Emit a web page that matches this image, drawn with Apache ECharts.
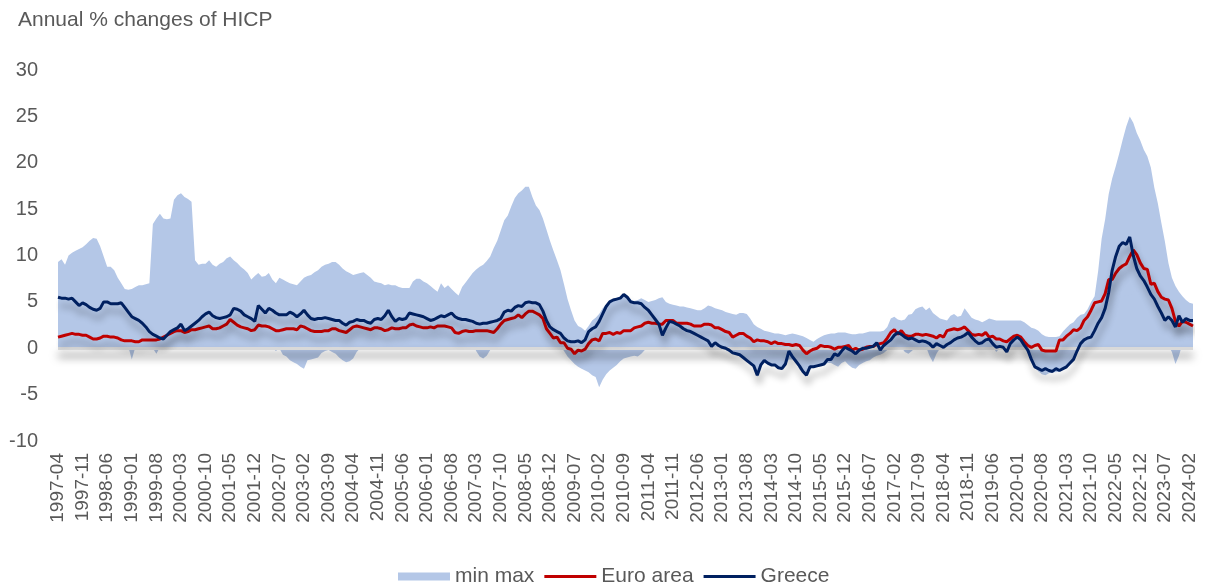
<!DOCTYPE html>
<html>
<head>
<meta charset="utf-8">
<title>Annual % changes of HICP</title>
<script src="https://cdn.jsdelivr.net/npm/echarts@6/dist/echarts.min.js"></script>
<style>
  html, body { margin: 0; padding: 0; background: #fff; }
  #chart { width: 1209px; height: 587px; }
</style>
</head>
<body>
<div id="chart"></div>
<script>
// monthly data, 1997-04 .. 2024-03 (one row per year)
const START_YEAR = 1997;
const START_MONTH = 4;

const maxVals = [
  9.3, 9.6, 9.0, 10.0, 10.3, 10.5, 10.7, 10.9, 11.2, // 1997
  11.6, 11.9, 11.8, 11.0, 9.9, 8.8, 8.8, 8.4, 7.6, 7.0, 6.4, 6.3,
  6.4, 6.6, 6.8, 6.8, 6.9, 7.0, 13.4, 14.0, 14.5, 14.0, 13.9, 14.0,
  16.0, 16.5, 16.7, 16.3, 16.1, 15.8, 9.5, 9.0, 9.1, 9.1, 9.5, 9.0, // 2000
  8.8, 9.1, 9.3, 9.7, 9.9, 9.5, 9.2, 8.8, 8.5, 8.1, 7.4, 7.8,
  8.1, 7.7, 7.8, 8.1, 7.4, 7.0, 7.6, 7.4, 7.2, 7.0, 6.9, 6.8,
  7.2, 7.6, 7.8, 7.9, 8.2, 8.4, 8.8, 9.0, 9.1, 9.3, 9.3, 9.0,
  8.6, 8.3, 8.1, 7.9, 8.0, 8.1, 8.2, 7.9, 7.6, 7.2, 7.1, 7.0,
  6.8, 6.9, 6.8, 6.8, 6.6, 6.5, 6.5, 6.5, 7.2, 7.5, 7.5, 7.2, // 2005
  7.0, 6.7, 6.4, 6.1, 7.0, 6.5, 6.8, 6.4, 6.0, 5.7, 6.6, 7.1,
  7.6, 8.1, 8.5, 8.8, 9.0, 9.4, 9.9, 10.8, 11.6, 12.7, 13.8, 14.3,
  15.3, 16.2, 16.7, 17.0, 17.4, 17.4, 16.3, 15.4, 14.9, 14.0, 12.8, 11.6,
  10.5, 9.5, 8.4, 6.9, 5.3, 4.1, 3.0, 2.4, 2.2, 1.9, 2.4, 3.0,
  3.3, 3.7, 4.3, 4.7, 5.1, 5.3, 5.4, 5.6, 5.8, 5.7, 5.2, 5.1, // 2010
  5.2, 5.4, 5.2, 5.0, 5.1, 5.2, 5.4, 5.5, 5.0, 4.8, 4.7, 4.6,
  4.5, 4.5, 4.4, 4.3, 4.2, 4.1, 4.1, 4.3, 4.6, 4.5, 4.3, 4.2,
  4.1, 3.9, 3.8, 3.7, 3.6, 3.8, 3.8, 3.7, 3.2, 2.6, 2.3, 2.1,
  1.9, 1.8, 1.7, 1.6, 1.6, 1.5, 1.4, 1.5, 1.6, 1.5, 1.4, 1.3,
  1.1, 0.9, 0.7, 1.0, 1.2, 1.4, 1.5, 1.6, 1.6, 1.7, 1.7, 1.7, // 2015
  1.6, 1.5, 1.5, 1.6, 1.6, 1.7, 1.8, 1.8, 1.8, 1.8, 1.9, 2.3,
  3.2, 3.4, 3.1, 3.0, 3.1, 3.6, 3.7, 4.2, 4.4, 4.5, 4.1, 4.4,
  3.8, 3.5, 3.2, 3.1, 3.0, 3.5, 3.7, 3.4, 3.5, 4.3, 3.8, 3.3,
  3.1, 3.0, 2.8, 3.0, 3.2, 3.1, 3.0, 3.0, 3.0, 3.0, 3.0, 3.0,
  3.0, 3.0, 2.8, 2.5, 2.2, 2.1, 1.9, 1.5, 1.3, 1.2, 1.2, 1.2, // 2020
  1.3, 1.8, 2.2, 2.6, 2.8, 3.3, 3.6, 3.7, 4.2, 5.0, 5.6, 8.3,
  11.8, 13.9, 16.6, 18.3, 19.6, 21.0, 22.5, 23.9, 25.0, 24.3, 23.2, 22.4,
  21.4, 20.7, 19.5, 17.3, 15.6, 13.5, 11.5, 9.2, 7.6, 6.7, 6.1, 5.6,
  5.2, 4.9, 4.8 // 2024
];

const minVals = [
  0.9, 0.8, 0.7, 0.9, 0.8, 0.7, 0.6, 0.8, 0.7, // 1997
  0.6, 0.5, 0.6, 0.7, 0.5, 0.4, 0.3, 0.2, 0.1, 0.0, 0.1, 0.2,
  -1.2, 0.1, 0.2, 0.3, 0.2, 0.1, 0.0, -0.6, 0.1, 0.3, 0.5, 0.6,
  0.8, 0.9, 1.0, 1.0, 1.1, 1.2, 1.3, 1.2, 1.3, 1.4, 1.2, 1.0, // 2000
  1.0, 1.2, 1.3, 1.5, 1.4, 1.3, 1.1, 1.0, 0.8, 0.6, 0.4, 0.3,
  0.5, 0.4, 0.3, 0.2, 0.1, -0.3, 0.0, -0.7, -0.9, -1.3, -1.5, -1.7,
  -2.0, -2.2, -1.3, -1.2, -1.1, -1.0, -0.5, -0.3, -0.2, -0.4, -0.6, -1.0,
  -1.3, -1.5, -1.4, -1.1, -0.4, 0.0, 0.2, 0.3, 0.4, 0.2, 0.3, 0.1,
  0.2, 0.3, 0.5, 0.4, 0.6, 0.5, 0.7, 0.8, 0.9, 0.8, 0.7, 0.9, // 2005
  0.8, 0.9, 1.0, 1.1, 1.2, 1.0, 0.9, 0.8, 0.7, 0.6, 0.8, 0.7,
  0.6, 0.5, -0.3, -0.9, -1.1, -0.8, -0.2, 0.6, 0.8, 1.0, 1.2, 1.3,
  1.4, 1.6, 1.8, 1.9, 2.0, 2.1, 2.2, 2.1, 1.9, 1.6, 1.0, 0.5,
  0.2, 0.1, 0.3, -0.3, -0.9, -1.3, -1.7, -2.0, -2.2, -2.4, -2.6, -2.9,
  -3.1, -4.2, -3.4, -2.8, -2.4, -2.1, -1.8, -1.4, -1.1, -1.0, -0.9, -0.8, // 2010
  -0.9, -0.6, -0.2, 0.2, 0.4, 0.6, 0.8, 1.0, 1.2, 1.3, 1.4, 1.2,
  1.1, 1.0, 0.9, 1.0, 1.0, 0.9, 0.8, 0.6, 0.5, 0.1, 0.4, 0.2,
  -0.1, -0.2, -0.4, -0.6, -0.7, -0.9, -1.1, -1.5, -1.7, -2.0, -3.1, -2.0,
  -1.6, -1.7, -1.9, -1.9, -2.2, -2.3, -1.8, -1.2, -1.2, -1.5, -2.3, -2.6,
  -3.0, -2.2, -2.1, -2.0, -1.9, -1.8, -1.6, -1.6, -1.8, -2.0, -1.6, -1.4, // 2015
  -1.8, -2.1, -2.2, -1.8, -1.6, -1.4, -1.3, -1.0, -0.8, -0.7, -0.5, -0.2,
  0.2, 0.4, 0.3, 0.1, -0.4, -0.6, -0.3, 0.1, 0.2, 0.3, 0.2, -0.8,
  -1.5, -0.6, 0.0, 0.1, 0.2, 0.3, 0.5, 0.7, 0.8, 0.9, 0.8, 0.6,
  0.4, 0.3, 0.2, 0.3, 0.4, 0.2, -0.4, 0.0, 0.0, -0.5, 0.2, 0.4,
  0.5, 0.3, 0.0, -0.5, -1.4, -2.1, -2.5, -2.8, -2.9, -2.7, -2.6, -2.6, // 2020
  -2.5, -2.3, -2.1, -1.7, -1.3, -0.5, 0.2, 0.6, 0.8, 1.0, 1.5, 2.2,
  2.5, 3.0, 3.8, 4.2, 4.5, 5.0, 5.5, 5.8, 5.6, 6.1, 6.2, 5.9,
  5.6, 5.8, 4.3, 3.3, 2.5, 1.6, 0.6, 0.3, -0.4, -1.7, -0.8, 0.5,
  1.1, 1.2, 1.3 // 2024
];

const euroArea = [
  1.2, 1.3, 1.4, 1.5, 1.6, 1.5, 1.5, 1.4, 1.4, // 1997
  1.2, 1.0, 1.0, 1.1, 1.3, 1.3, 1.2, 1.2, 1.1, 0.9, 0.8, 0.8,
  0.8, 0.7, 0.7, 0.9, 0.9, 0.9, 0.9, 0.9, 1.0, 1.2, 1.4, 1.6,
  1.8, 1.9, 1.9, 1.7, 1.8, 2.0, 2.0, 2.1, 2.2, 2.3, 2.4, 2.1, // 2000
  2.1, 2.2, 2.4, 2.6, 3.1, 2.8, 2.5, 2.3, 2.2, 2.1, 1.9, 2.0,
  2.5, 2.4, 2.4, 2.3, 2.1, 1.9, 1.9, 2.0, 2.1, 2.1, 2.1, 2.0,
  2.4, 2.3, 2.1, 1.9, 1.8, 1.8, 1.8, 1.9, 1.9, 2.1, 2.1, 1.9,
  1.8, 1.7, 2.0, 2.3, 2.4, 2.3, 2.2, 2.1, 2.0, 2.2, 2.2, 2.1,
  1.9, 2.0, 2.2, 2.1, 2.1, 2.2, 2.2, 2.5, 2.6, 2.4, 2.3, 2.2, // 2005
  2.2, 2.3, 2.2, 2.4, 2.4, 2.4, 2.3, 2.2, 1.7, 1.6, 1.8, 1.9,
  1.8, 1.8, 1.9, 1.9, 1.9, 1.9, 1.8, 1.7, 2.1, 2.6, 3.0, 3.1,
  3.2, 3.3, 3.6, 3.3, 3.7, 4.0, 4.0, 3.8, 3.6, 3.2, 2.1, 1.6,
  1.1, 1.2, 0.6, 0.6, 0.0, -0.1, -0.6, -0.2, -0.3, -0.1, 0.5, 0.9,
  1.0, 0.8, 1.6, 1.6, 1.7, 1.5, 1.7, 1.6, 1.9, 1.9, 1.9, 2.2, // 2010
  2.3, 2.4, 2.7, 2.8, 2.7, 2.7, 2.6, 2.6, 3.0, 3.0, 3.0, 2.7,
  2.7, 2.7, 2.7, 2.6, 2.4, 2.4, 2.4, 2.6, 2.6, 2.5, 2.2, 2.2,
  2.0, 1.8, 1.7, 1.2, 1.4, 1.6, 1.6, 1.3, 1.1, 0.7, 0.9, 0.8,
  0.8, 0.7, 0.5, 0.7, 0.5, 0.5, 0.4, 0.4, 0.3, 0.4, 0.3, -0.2,
  -0.6, -0.3, -0.1, 0.0, 0.3, 0.2, 0.2, 0.1, -0.1, 0.1, 0.1, 0.2, // 2015
  0.3, -0.2, 0.0, -0.2, -0.1, 0.1, 0.2, 0.2, 0.4, 0.5, 0.6, 1.1,
  1.7, 2.0, 1.5, 1.9, 1.4, 1.3, 1.3, 1.5, 1.5, 1.4, 1.5, 1.4,
  1.3, 1.1, 1.4, 1.2, 1.9, 2.0, 2.1, 2.0, 2.1, 2.3, 1.9, 1.5,
  1.4, 1.5, 1.4, 1.7, 1.2, 1.3, 1.0, 1.0, 0.8, 0.7, 1.0, 1.3,
  1.4, 1.2, 0.7, 0.3, 0.1, 0.3, 0.4, -0.2, -0.3, -0.3, -0.3, -0.3, // 2020
  0.9, 0.9, 1.3, 1.6, 2.0, 1.9, 2.2, 3.0, 3.4, 4.1, 4.9, 5.0,
  5.1, 5.9, 7.4, 7.4, 8.1, 8.6, 8.9, 9.1, 9.9, 10.6, 10.1, 9.2,
  8.6, 8.5, 6.9, 7.0, 6.1, 5.5, 5.3, 5.2, 4.3, 2.9, 2.4, 2.9,
  2.8, 2.6, 2.4 // 2024
];

const greece = [
  5.5, 5.4, 5.4, 5.3, 5.4, 5.0, 4.6, 4.9, 4.7, // 1997
  4.4, 4.2, 4.1, 4.3, 5.0, 5.0, 4.8, 4.8, 4.8, 4.9, 4.4, 3.9,
  3.4, 3.2, 3.0, 2.7, 2.3, 1.8, 1.5, 1.3, 1.1, 1.0, 1.4, 1.8,
  2.0, 2.2, 2.6, 1.9, 2.1, 2.4, 2.7, 3.0, 3.4, 3.7, 3.9, 3.5, // 2000
  3.3, 3.2, 3.3, 3.4, 3.6, 4.3, 4.2, 4.0, 3.6, 3.4, 3.2, 2.9,
  4.6, 4.2, 3.8, 4.3, 4.1, 3.8, 3.6, 3.6, 3.6, 3.9, 3.7, 3.4,
  3.7, 4.1, 3.6, 3.2, 3.1, 3.2, 3.2, 3.3, 3.2, 3.1, 3.0, 3.0,
  2.7, 2.5, 2.8, 2.9, 3.1, 3.0, 3.0, 2.8, 2.7, 3.1, 3.2, 3.1,
  3.5, 4.1, 3.4, 2.9, 3.2, 3.1, 3.2, 3.8, 3.7, 3.6, 3.5, 3.4, // 2005
  3.2, 3.0, 3.1, 3.3, 3.5, 3.4, 3.6, 3.8, 3.4, 3.2, 3.1, 3.1,
  3.0, 2.9, 2.7, 2.6, 2.7, 2.7, 2.8, 2.9, 3.0, 3.2, 3.9, 4.1,
  4.0, 4.4, 4.6, 4.5, 4.9, 5.0, 4.9, 4.9, 4.7, 4.0, 3.0, 2.3,
  2.0, 1.8, 1.6, 1.1, 0.8, 0.7, 0.7, 0.8, 0.6, 0.9, 1.8, 2.1,
  2.3, 2.9, 3.7, 4.5, 5.0, 5.2, 5.3, 5.4, 5.8, 5.5, 5.0, 4.9, // 2010
  4.9, 4.8, 4.4, 4.1, 3.6, 3.1, 2.6, 1.4, 2.2, 2.9, 2.8, 2.6,
  2.4, 2.1, 1.9, 1.8, 1.6, 1.4, 1.2, 1.0, 0.8, 0.2, 0.6, 0.3,
  0.1, 0.0, -0.2, -0.5, -0.6, -0.7, -1.0, -1.3, -1.6, -1.9, -2.9, -1.8,
  -1.3, -1.6, -1.8, -1.8, -2.1, -2.2, -1.7, -0.3, -0.9, -1.4, -1.9, -2.5,
  -2.9, -2.0, -2.0, -1.9, -1.8, -1.7, -1.2, -1.2, -0.6, -0.8, -0.3, 0.1, // 2015
  -0.1, -0.3, -0.6, -0.2, 0.0, 0.0, 0.1, 0.2, 0.6, -0.2, 0.3, 0.6,
  0.9, 1.4, 1.7, 1.5, 1.2, 1.0, 1.1, 0.9, 0.7, 0.8, 0.7, 0.5,
  0.1, 0.5, 0.3, 0.1, 0.4, 0.6, 0.9, 1.1, 1.2, 1.4, 1.7, 1.2,
  0.8, 0.5, 0.6, 0.9, 1.0, 0.5, 0.1, 0.2, 0.1, -0.4, 0.5, 0.9,
  1.2, 0.9, 0.3, -0.2, -1.2, -2.0, -2.2, -2.4, -2.2, -2.4, -2.5, -2.2, // 2020
  -2.4, -2.2, -2.0, -1.6, -1.2, -0.3, 0.5, 0.9, 1.1, 1.2, 1.9, 2.7,
  3.3, 4.3, 6.0, 8.4, 9.9, 11.0, 11.4, 11.2, 12.0, 10.0, 8.6, 7.8,
  7.3, 6.6, 5.8, 5.3, 4.5, 3.8, 3.0, 3.4, 3.0, 2.3, 3.5, 2.8,
  3.2, 3.0, 3.0 // 2024
];

// category labels yyyy-mm
const months = [];
for (let k = 0; k < greece.length; k++) {
  const m = START_MONTH - 1 + k;
  const y = START_YEAR + Math.floor(m / 12);
  months.push(y + '-' + String((m % 12) + 1).padStart(2, '0'));
}

const FONT = "'Liberation Sans', Arial, sans-serif";
const TEXT = '#595959';
const BAND = '#B4C7E7';

const lineShadow = {
  shadowColor: 'rgba(0,0,0,0.3)',
  shadowBlur: 7,
  shadowOffsetX: 2,
  shadowOffsetY: 8
};

const chart = echarts.init(document.getElementById('chart'));
chart.setOption({
  animation: false,
  textStyle: { fontFamily: FONT },
  title: {
    text: 'Annual % changes of HICP',
    left: 18,
    top: 10,
    padding: 0,
    textStyle: { fontFamily: FONT, fontSize: 21, fontWeight: 'normal', color: TEXT }
  },
  legend: {
    left: 398,
    top: 566,
    padding: 0,
    itemWidth: 52,
    itemHeight: 8,
    itemGap: 10,
    selectedMode: false,
    textStyle: { fontFamily: FONT, fontSize: 21, color: TEXT },
    data: [
      { name: 'min max', icon: 'rect', itemStyle: { color: BAND } },
      { name: 'Euro area', icon: 'path://M0 0H100V6H0Z' },
      { name: 'Greece', icon: 'path://M0 0H100V6H0Z' }
    ]
  },
  grid: { left: 58, right: 16, top: 70, bottom: 146 },
  xAxis: {
    type: 'category',
    data: months,
    boundaryGap: false,
    axisLine: { show: false },
    axisTick: { show: false },
    splitLine: { show: false },
    axisLabel: {
      interval: 6,
      rotate: 90,
      margin: 12,
      fontFamily: FONT,
      fontSize: 19,
      color: TEXT
    }
  },
  yAxis: {
    type: 'value',
    min: -10,
    max: 30,
    interval: 5,
    axisLine: { show: false },
    axisTick: { show: false },
    splitLine: { show: false },
    axisLabel: { margin: 20, fontFamily: FONT, fontSize: 20, color: TEXT }
  },
  series: [
    {
      name: 'min max',
      type: 'line',
      data: maxVals,
      symbol: 'none',
      silent: true,
      z: 1,
      lineStyle: { width: 0 },
      itemStyle: { color: BAND },
      areaStyle: { color: BAND, opacity: 1 },
      markLine: {
        silent: true,
        symbol: 'none',
        z: 2,
        label: { show: false },
        lineStyle: {
          type: 'solid',
          color: '#D9D9D9',
          width: 3,
          shadowColor: 'rgba(0,0,0,0.55)',
          shadowBlur: 8,
          shadowOffsetY: 7
        },
        data: [{ yAxis: 0 }]
      }
    },
    {
      name: 'min max',
      type: 'line',
      data: minVals,
      symbol: 'none',
      silent: true,
      z: 1,
      lineStyle: { width: 0 },
      itemStyle: { color: BAND },
      areaStyle: { color: BAND, opacity: 1 }
    },
    {
      name: 'Euro area',
      type: 'line',
      data: euroArea,
      symbol: 'none',
      z: 3,
      itemStyle: { color: '#C00000' },
      lineStyle: Object.assign({ color: '#C00000', width: 3 }, lineShadow)
    },
    {
      name: 'Greece',
      type: 'line',
      data: greece,
      symbol: 'none',
      z: 4,
      itemStyle: { color: '#002060' },
      lineStyle: Object.assign({ color: '#002060', width: 3 }, lineShadow)
    }
  ]
});
</script>
</body>
</html>
